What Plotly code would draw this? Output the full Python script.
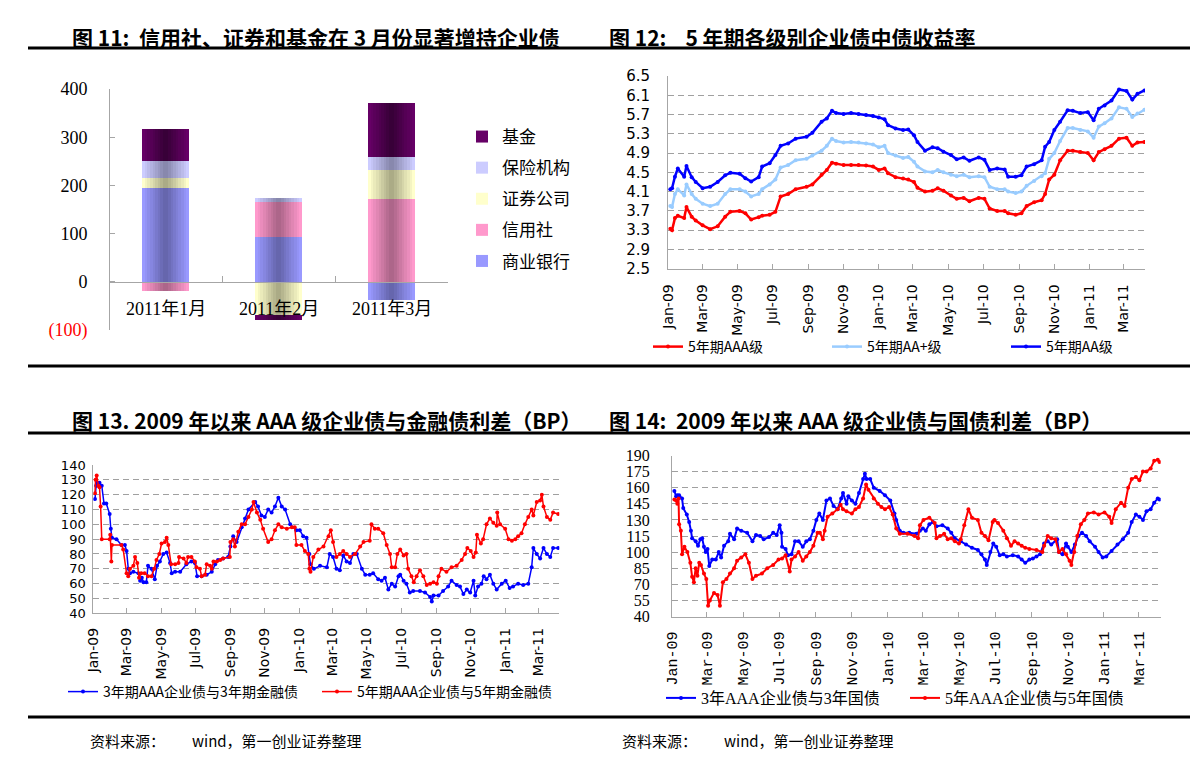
import plotly.graph_objects as go

W, H = 1191, 769
def fx(px): return px / W
def fy(py): return 1 - py / H

SERIF = "Liberation Serif, Noto Sans CJK SC"
SANS = "DejaVu Sans, Noto Sans CJK SC"
CJK = "Noto Sans CJK SC"
MONO = "Liberation Mono, Noto Sans CJK SC"
GRAY = "#A6A6A6"

# ---------------- Panel 1 data (图11) ----------------
months = ["2011年1月", "2011年2月", "2011年3月"]
bank = [195, 93, -37]        # 商业银行
credit = [-20, 73, 172]      # 信用社
securities = [21, -68, 60]   # 证券公司
insurance = [35, 8, 27]      # 保险机构
funds = [66, -12, 112]       # 基金
p1_tickvals = [-100, 0, 100, 200, 300, 400]
p1_ticktext = ['<span style="color:#FF0000">(100)</span>', "0", "100", "200", "300", "400"]

# ---------------- Panel 2 data (图12) ----------------
p2_dates = ["2009-01-05","2009-01-08","2009-01-13","2009-01-18","2009-01-29","2009-02-02","2009-02-11","2009-02-18","2009-03-02","2009-03-15",
            "2009-03-28","2009-04-10","2009-04-19","2009-05-05","2009-05-15","2009-05-25","2009-06-07","2009-06-13","2009-06-26","2009-07-06",
            "2009-07-15","2009-07-28","2009-08-10","2009-08-29","2009-09-08","2009-09-24","2009-10-03","2009-10-12","2009-10-19","2009-11-01",
            "2009-11-14","2009-11-27","2009-12-10","2009-12-22","2010-01-01","2010-01-11","2010-01-17","2010-01-30","2010-02-12","2010-02-21",
            "2010-03-03","2010-03-09","2010-03-22","2010-04-04","2010-04-13","2010-04-23","2010-05-06","2010-05-16","2010-05-28","2010-06-07",
            "2010-06-23","2010-07-03","2010-07-12","2010-07-25","2010-08-07","2010-08-13","2010-08-26","2010-09-05","2010-09-14","2010-09-27",
            "2010-10-10","2010-10-16","2010-10-23","2010-11-01","2010-11-11","2010-11-24","2010-12-03","2010-12-16","2010-12-29","2011-01-08",
            "2011-01-17","2011-01-27","2011-02-08","2011-02-21","2011-03-06","2011-03-16","2011-03-25","2011-04-06"]
p2_aaa = [3.33,3.30,3.55,3.60,3.55,3.78,3.58,3.50,3.40,3.32,
          3.38,3.58,3.68,3.70,3.65,3.52,3.57,3.60,3.62,3.68,
          4.00,4.05,4.15,4.20,4.25,4.45,4.55,4.70,4.68,4.65,
          4.65,4.65,4.64,4.62,4.55,4.58,4.48,4.40,4.37,4.35,
          4.30,4.18,4.10,4.12,4.17,4.12,4.02,3.95,3.97,3.90,
          3.97,3.95,3.75,3.70,3.70,3.65,3.62,3.65,3.80,3.88,
          3.92,4.05,4.35,4.45,4.75,4.95,4.95,4.92,4.90,4.75,
          4.92,4.98,5.05,5.20,5.22,5.05,5.12,5.13]
p2_aaplus = [3.80,3.78,4.05,4.15,4.02,4.25,4.05,3.95,3.85,3.80,
             3.85,4.05,4.15,4.15,4.10,4.00,4.05,4.15,4.25,4.35,
             4.60,4.65,4.75,4.78,4.85,4.95,5.05,5.20,5.15,5.12,
             5.13,5.12,5.10,5.08,5.02,5.05,4.90,4.85,4.80,4.82,
             4.72,4.62,4.52,4.50,4.55,4.50,4.45,4.42,4.45,4.40,
             4.42,4.40,4.20,4.15,4.15,4.10,4.07,4.10,4.22,4.32,
             4.42,4.48,4.78,4.90,5.15,5.42,5.42,5.38,5.35,5.22,
             5.45,5.52,5.62,5.85,5.82,5.65,5.72,5.80]
p2_aa = [4.15,4.17,4.41,4.58,4.41,4.63,4.40,4.30,4.17,4.20,
         4.30,4.44,4.49,4.47,4.38,4.31,4.40,4.62,4.69,4.86,
         5.05,5.10,5.20,5.24,5.32,5.55,5.62,5.78,5.73,5.71,
         5.73,5.71,5.69,5.67,5.64,5.60,5.48,5.41,5.38,5.39,
         5.27,5.13,4.95,5.02,5.00,4.93,4.86,4.77,4.81,4.74,
         4.81,4.76,4.55,4.58,4.56,4.41,4.41,4.44,4.62,4.67,
         4.75,5.03,5.13,5.38,5.55,5.79,5.78,5.73,5.75,5.58,
         5.82,5.89,5.99,6.22,6.19,6.01,6.13,6.20]

# ---------------- Panel 3 data (图13) ----------------
p3_fin3 = [("2009-01-04",117),("2009-01-06",126),("2009-01-08",128),("2009-01-12",128),("2009-01-16",126),("2009-01-20",114),("2009-01-24",114),
  ("2009-01-30",107),("2009-02-01",97),("2009-02-03",91),("2009-02-11",90),("2009-02-20",86),("2009-02-26",86),("2009-03-01",82),("2009-03-04",70),
  ("2009-03-07",67),("2009-03-13",68),("2009-03-22",67),("2009-03-25",62),("2009-03-28",64),("2009-03-31",61),("2009-04-05",61),("2009-04-08",72),
  ("2009-04-14",70),("2009-04-20",63),("2009-04-24",72),("2009-04-29",75),("2009-05-05",80),("2009-05-11",81),("2009-05-17",74),("2009-05-20",67),
  ("2009-05-26",68),("2009-06-04",68),("2009-06-15",73),("2009-06-24",75),("2009-06-30",74),("2009-07-04",65),("2009-07-12",65),("2009-07-21",66),
  ("2009-07-30",68),("2009-08-05",73),("2009-08-10",76),("2009-08-19",77),("2009-08-28",78),("2009-09-01",85),("2009-09-06",92),("2009-09-12",88),
  ("2009-09-21",98),("2009-09-27",104),("2009-10-03",110),("2009-10-15",115),("2009-10-20",112),("2009-10-26",106),("2009-11-01",105),("2009-11-07",110),
  ("2009-11-13",108),("2009-11-19",112),("2009-11-25",118),("2009-12-01",112),("2009-12-07",110),("2009-12-16",100),("2009-12-27",96),("2010-01-02",96),
  ("2010-01-08",92),("2010-01-14",91),("2010-01-19",80),("2010-01-21",73),("2010-01-27",70),("2010-02-07",72),("2010-02-19",71),("2010-02-24",80),
  ("2010-03-02",78),("2010-03-08",70),("2010-03-14",69),("2010-03-20",79),("2010-03-26",75),("2010-04-01",74),("2010-04-07",80),("2010-04-13",80),
  ("2010-04-22",70),("2010-04-28",66),("2010-05-06",66),("2010-05-12",67),("2010-05-21",63),("2010-05-27",62),("2010-06-02",64),("2010-06-08",56),
  ("2010-06-14",60),("2010-06-20",58),("2010-06-26",65),("2010-06-29",66),("2010-07-05",62),("2010-07-10",60),("2010-07-16",54),("2010-07-22",55),
  ("2010-08-03",55),("2010-08-12",54),("2010-08-21",51),("2010-08-24",48),("2010-08-27",52),("2010-09-05",52),("2010-09-13",55),("2010-09-22",58),
  ("2010-09-28",62),("2010-10-07",59),("2010-10-13",58),("2010-10-19",53),("2010-10-25",56),("2010-10-31",54),("2010-11-06",62),("2010-11-09",52),
  ("2010-11-14",58),("2010-11-20",60),("2010-11-24",65),("2010-11-29",63),("2010-12-05",66),("2010-12-11",60),("2010-12-17",56),("2010-12-26",60),
  ("2011-01-02",62),("2011-01-09",57),("2011-01-15",58),("2011-01-24",60),("2011-02-02",59),("2011-02-11",60),("2011-02-17",71),("2011-02-20",84),
  ("2011-02-26",80),("2011-03-04",77),("2011-03-10",84),("2011-03-16",80),("2011-03-22",78),("2011-03-27",84),("2011-04-05",84)]
p3_fin5 = [("2009-01-04",121),("2009-01-05",130),("2009-01-07",133),("2009-01-10",126),("2009-01-12",125),("2009-01-14",112),("2009-01-16",90),
  ("2009-01-30",90),("2009-01-31",93),("2009-02-02",75),("2009-02-03",86),("2009-02-20",86),("2009-02-23",83),("2009-03-01",67),("2009-03-04",65),
  ("2009-03-07",70),("2009-03-13",72),("2009-03-16",78),("2009-03-20",74),("2009-03-23",64),("2009-03-27",67),("2009-04-02",67),("2009-04-08",65),
  ("2009-04-14",65),("2009-04-19",70),("2009-04-23",76),("2009-04-28",80),("2009-05-02",87),("2009-05-08",88),("2009-05-11",91),("2009-05-14",86),
  ("2009-05-19",73),("2009-05-26",73),("2009-06-01",74),("2009-06-02",78),("2009-06-10",77),("2009-06-15",74),("2009-06-18",78),("2009-06-24",78),
  ("2009-06-30",75),("2009-07-03",71),("2009-07-09",70),("2009-07-12",65),("2009-07-18",66),("2009-07-21",73),("2009-07-27",72),("2009-07-30",70),
  ("2009-08-02",75),("2009-08-08",75),("2009-08-14",76),("2009-08-19",77),("2009-08-31",78),("2009-09-01",88),("2009-09-06",90),("2009-09-09",85),
  ("2009-09-15",95),("2009-09-21",100),("2009-09-27",100),("2009-10-03",105),("2009-10-09",110),("2009-10-12",115),("2009-10-18",108),("2009-10-24",103),
  ("2009-10-29",97),("2009-11-07",88),("2009-11-13",90),("2009-11-19",96),("2009-11-25",100),("2009-12-01",98),("2009-12-10",97),("2009-12-19",98),
  ("2009-12-24",98),("2009-12-27",86),("2010-01-05",86),("2010-01-11",82),("2010-01-17",80),("2010-01-19",70),("2010-01-21",68),("2010-01-26",78),
  ("2010-02-04",83),("2010-02-13",85),("2010-02-22",92),("2010-02-26",96),("2010-03-02",88),("2010-03-08",78),("2010-03-14",80),("2010-03-20",82),
  ("2010-03-26",80),("2010-04-01",78),("2010-04-10",80),("2010-04-19",85),("2010-04-25",88),("2010-05-06",89),("2010-05-09",100),("2010-05-15",97),
  ("2010-05-21",97),("2010-05-30",94),("2010-06-05",86),("2010-06-11",80),("2010-06-14",71),("2010-06-20",71),("2010-06-24",80),("2010-06-29",83),
  ("2010-07-05",79),("2010-07-10",80),("2010-07-13",70),("2010-07-19",65),("2010-07-23",61),("2010-07-28",65),("2010-08-03",69),("2010-08-09",65),
  ("2010-08-15",59),("2010-08-21",60),("2010-08-27",61),("2010-09-02",60),("2010-09-05",65),("2010-09-10",70),("2010-09-19",68),("2010-09-28",71),
  ("2010-10-07",72),("2010-10-16",76),("2010-10-22",80),("2010-10-26",84),("2010-11-01",82),("2010-11-06",78),("2010-11-10",81),("2010-11-12",93),
  ("2010-11-19",87),("2010-11-23",90),("2010-11-29",100),("2010-12-05",104),("2010-12-11",101),("2010-12-17",99),("2010-12-18",108),("2010-12-23",100),
  ("2011-01-01",97),("2011-01-07",90),("2011-01-13",89),("2011-01-19",90),("2011-01-24",92),("2011-01-30",94),("2011-02-05",100),("2011-02-11",105),
  ("2011-02-17",110),("2011-02-20",106),("2011-02-26",115),("2011-03-04",116),("2011-03-07",120),("2011-03-10",112),("2011-03-16",105),("2011-03-22",103),
  ("2011-03-27",108),("2011-04-05",107)]

# ---------------- Panel 4 data (图14) ----------------
p4_gov3 = [("2009-01-05",157),("2009-01-08",152),("2009-01-10",153),("2009-01-13",153),("2009-01-18",150),("2009-01-20",141),("2009-01-26",135),
  ("2009-01-30",128),("2009-02-02",120),("2009-02-04",113),("2009-02-10",110),("2009-02-14",106),("2009-02-18",112),("2009-02-21",113),("2009-02-24",105),
  ("2009-02-27",100),("2009-03-02",103),("2009-03-05",87),("2009-03-10",93),("2009-03-16",93),("2009-03-21",100),("2009-03-25",95),("2009-03-30",106),
  ("2009-04-06",110),("2009-04-09",117),("2009-04-16",112),("2009-04-21",122),("2009-04-28",120),("2009-05-08",118),("2009-05-17",110),("2009-05-23",116),
  ("2009-05-30",115),("2009-06-05",112),("2009-06-14",114),("2009-06-21",118),("2009-06-27",116),("2009-07-02",125),("2009-07-05",118),("2009-07-06",105),
  ("2009-07-12",103),("2009-07-16",97),("2009-07-22",98),("2009-07-28",110),("2009-08-03",110),("2009-08-10",105),("2009-08-16",110),("2009-08-22",112),
  ("2009-08-28",120),("2009-09-02",130),("2009-09-07",136),("2009-09-13",130),("2009-09-19",148),("2009-09-25",150),("2009-10-01",143),("2009-10-08",140),
  ("2009-10-14",150),("2009-10-17",155),("2009-10-23",145),("2009-10-26",152),("2009-11-01",148),("2009-11-07",145),("2009-11-13",155),("2009-11-20",168),
  ("2009-11-23",173),("2009-11-26",168),("2009-12-02",168),("2009-12-08",160),("2009-12-18",157),("2009-12-27",153),("2010-01-05",148),("2010-01-12",136),
  ("2010-01-15",130),("2010-01-21",120),("2010-01-27",118),("2010-02-06",118),("2010-02-18",117),("2010-02-24",120),("2010-03-01",122),("2010-03-06",120),
  ("2010-03-12",126),("2010-03-18",128),("2010-03-24",124),("2010-04-03",125),("2010-04-12",122),("2010-04-18",118),("2010-04-24",113),("2010-05-04",110),
  ("2010-05-13",107),("2010-05-23",104),("2010-06-02",102),("2010-06-08",98),("2010-06-14",93),("2010-06-17",88),("2010-06-23",100),("2010-06-28",108),
  ("2010-07-03",105),("2010-07-09",97),("2010-07-15",98),("2010-07-21",96),("2010-07-31",97),("2010-08-09",96),("2010-08-15",93),("2010-08-21",90),
  ("2010-08-28",93),("2010-09-03",94),("2010-09-09",96),("2010-09-15",98),("2010-09-22",108),("2010-09-28",110),("2010-10-04",107),("2010-10-14",112),
  ("2010-10-17",100),("2010-10-23",98),("2010-10-29",108),("2010-11-01",105),("2010-11-07",100),("2010-11-13",107),("2010-11-19",115),("2010-11-25",118),
  ("2010-12-02",115),("2010-12-08",110),("2010-12-17",105),("2010-12-23",100),("2010-12-30",95),("2011-01-05",96),("2011-01-14",101),("2011-01-24",107),
  ("2011-02-02",112),("2011-02-11",118),("2011-02-17",128),("2011-02-24",135),("2011-03-02",133),("2011-03-08",130),("2011-03-14",138),("2011-03-21",140),
  ("2011-03-27",146),("2011-04-02",150),("2011-04-05",149)]
p4_gov5 = [("2009-01-05",149),("2009-01-08",148),("2009-01-10",145),("2009-01-12",150),("2009-01-13",126),("2009-01-16",120),("2009-01-18",98),
  ("2009-01-22",105),("2009-01-27",100),("2009-02-01",90),("2009-02-04",77),("2009-02-07",72),("2009-02-10",85),("2009-02-13",78),("2009-02-16",90),
  ("2009-02-19",88),("2009-02-24",80),("2009-02-28",75),("2009-03-03",50),("2009-03-06",55),("2009-03-13",62),("2009-03-19",60),("2009-03-23",50),
  ("2009-03-28",72),("2009-04-03",75),("2009-04-09",80),("2009-04-16",85),("2009-04-21",92),("2009-04-28",95),("2009-05-05",98),("2009-05-11",90),
  ("2009-05-17",75),("2009-05-23",78),("2009-06-02",80),("2009-06-11",85),("2009-06-21",88),("2009-06-30",93),("2009-07-06",94),("2009-07-12",97),
  ("2009-07-19",82),("2009-07-22",93),("2009-07-28",96),("2009-08-03",100),("2009-08-10",92),("2009-08-16",96),("2009-08-22",100),("2009-08-28",106),
  ("2009-09-04",118),("2009-09-08",118),("2009-09-13",112),("2009-09-16",120),("2009-09-21",133),("2009-09-29",136),("2009-10-08",140),("2009-10-13",144),
  ("2009-10-17",140),("2009-10-23",138),("2009-11-01",136),("2009-11-07",140),("2009-11-13",142),("2009-11-20",150),("2009-11-25",163),("2009-11-29",158),
  ("2009-12-08",150),("2009-12-15",145),("2009-12-21",142),("2009-12-27",140),("2010-01-03",142),("2010-01-09",135),("2010-01-15",122),("2010-01-21",117),
  ("2010-02-03",117),("2010-02-15",115),("2010-02-21",113),("2010-02-24",125),("2010-03-02",130),("2010-03-12",132),("2010-03-21",127),("2010-03-24",113),
  ("2010-03-30",115),("2010-04-06",117),("2010-04-12",112),("2010-04-18",113),("2010-04-24",110),("2010-05-01",108),("2010-05-04",112),("2010-05-10",125),
  ("2010-05-17",140),("2010-05-23",132),("2010-06-02",130),("2010-06-08",118),("2010-06-14",115),("2010-06-20",111),("2010-06-27",128),("2010-06-30",130),
  ("2010-07-06",127),("2010-07-15",120),("2010-07-21",113),("2010-07-28",106),("2010-08-03",110),("2010-08-09",108),("2010-08-15",106),("2010-08-21",104),
  ("2010-08-28",103),("2010-09-09",102),("2010-09-19",100),("2010-09-22",106),("2010-09-28",115),("2010-10-04",113),("2010-10-11",112),("2010-10-17",100),
  ("2010-10-23",103),("2010-10-29",98),("2010-11-04",92),("2010-11-07",88),("2010-11-12",100),("2010-11-17",115),("2010-11-23",126),("2010-11-29",130),
  ("2010-12-05",136),("2010-12-15",137),("2010-12-23",135),("2011-01-02",137),("2011-01-10",133),("2011-01-14",127),("2011-01-21",140),("2011-01-30",146),
  ("2011-02-05",143),("2011-02-11",160),("2011-02-17",168),("2011-02-24",170),("2011-03-02",167),("2011-03-08",175),("2011-03-14",175),("2011-03-21",178),
  ("2011-03-27",185),("2011-04-02",186),("2011-04-05",184)]

titles = ["图 11:  信用社、证券和基金在 3 月份显著增持企业债",
          "图 12:    5 年期各级别企业债中债收益率",
          "图 13. 2009 年以来 AAA 级企业债与金融债利差（BP）",
          "图 14:  2009 年以来 AAA 级企业债与国债利差（BP）"]
source_label = "资料来源："
source_text = "wind，第一创业证券整理"

# ======================================================
fig = go.Figure()

# ---- Panel 1 stacked bars with cylindrical shading ----
def hex2rgb(h):
    h = h.lstrip("#")
    return tuple(int(h[i:i + 2], 16) for i in (0, 2, 4))

def mix(c1, c2, t):
    a, b = hex2rgb(c1), hex2rgb(c2)
    return "rgb(%d,%d,%d)" % tuple(round(a[i] + (b[i] - a[i]) * t) for i in range(3))

series1 = [("商业银行", bank, "#9999FF", "#6666AD"),
           ("信用社", credit, "#FF99CC", "#AD668A"),
           ("证券公司", securities, "#FFFFCC", "#ABAB86"),
           ("保险机构", insurance, "#CCCCFF", "#8888AD"),
           ("基金", funds, "#660066", "#380038")]
BW = 0.41
NSTEP = 9
pos = [0, 0, 0]
neg = [0, 0, 0]
for si, (name, vals, c_edge, c_mid) in enumerate(series1):
    bases = []
    for i, v in enumerate(vals):
        if v >= 0:
            bases.append(pos[i]); pos[i] += v
        else:
            bases.append(neg[i]); neg[i] += v
    for k in range(NSTEP):
        t = k / (NSTEP - 1)
        fig.add_trace(go.Bar(
            x=months, y=vals, base=bases, width=BW * (1 - k / NSTEP),
            marker=dict(color=mix(c_edge, c_mid, t), line=dict(width=0)),
            name=name, legendgroup=name, legendrank=len(series1) - si, showlegend=(k == 0),
            xaxis="x", yaxis="y", legend="legend", hoverinfo="skip" if k else "y+name"))

# ---- Panel 2 lines ----
for name, vals, col in [("5年期AAA级", p2_aaa, "#FF0000"),
                        ("5年期AA+级", p2_aaplus, "#99CCFF"),
                        ("5年期AA级", p2_aa, "#0000FF")]:
    fig.add_trace(go.Scatter(x=p2_dates, y=vals, mode="lines+markers", name=name,
                             line=dict(color=col, width=2.5), marker=dict(color=col, size=4),
                             xaxis="x2", yaxis="y2", legend="legend2"))

# ---- Panel 3 lines ----
for name, pairs, col in [("3年期AAA企业债与3年期金融债", p3_fin3, "#0000FF"),
                         ("5年期AAA企业债与5年期金融债", p3_fin5, "#FF0000")]:
    fig.add_trace(go.Scatter(x=[d for d, _ in pairs], y=[v for _, v in pairs], mode="lines+markers",
                             name=name, line=dict(color=col, width=1.5), marker=dict(color=col, size=4),
                             xaxis="x3", yaxis="y3", legend="legend3"))

# ---- Panel 4 lines ----
for name, pairs, col in [("3年AAA企业债与3年国债", p4_gov3, "#0000FF"),
                         ("5年AAA企业债与5年国债", p4_gov5, "#FF0000")]:
    fig.add_trace(go.Scatter(x=[d for d, _ in pairs], y=[v for _, v in pairs], mode="lines+markers",
                             name=name, line=dict(color=col, width=2), marker=dict(color=col, size=4),
                             xaxis="x4", yaxis="y4", legend="legend4"))

# ---- Axes ----
y1_dom = [fy(330), fy(89)]
y1_rng = [-100, 400]
zero_pos = y1_dom[0] + (0 - y1_rng[0]) / (y1_rng[1] - y1_rng[0]) * (y1_dom[1] - y1_dom[0])

date_range = ["2009-01-01", "2011-04-07"]

def date_axis(dom, font, standoff):
    return dict(domain=dom, type="date", range=date_range, tick0="2009-01-01", dtick="M2",
                tickformat="%b-%y", tickangle=-90, ticks="inside", ticklen=5, tickcolor=GRAY,
                showline=True, linecolor=GRAY, linewidth=1, showgrid=False, zeroline=False,
                tickfont=font, ticklabelstandoff=standoff)

def val_axis(dom, rng, dtick, font, standoff, fmt=None):
    d = dict(domain=dom, range=rng, tick0=rng[0], dtick=dtick, showgrid=True, gridcolor="#A0A0A0",
             griddash="6px,4px", gridwidth=1, showline=True, linecolor=GRAY, linewidth=1,
             zeroline=False, ticks="", tickfont=font, ticklabelstandoff=standoff)
    if fmt:
        d["tickformat"] = fmt
    return d

fig.update_layout(
    xaxis=dict(domain=[fx(109), fx(448)], type="category", range=[-0.5, 2.5], anchor="free",
               position=zero_pos, showline=True, linecolor=GRAY, ticks="inside", tickson="boundaries",
               ticklen=6, tickcolor=GRAY, showticklabels=False, showgrid=False, zeroline=False),
    yaxis=dict(domain=y1_dom, range=y1_rng, anchor="free", position=fx(109), tickvals=p1_tickvals,
               ticktext=p1_ticktext, showline=True, linecolor=GRAY, ticks="inside", ticklen=5,
               tickcolor=GRAY, showgrid=False, zeroline=False,
               tickfont=dict(family=SERIF, size=18, color="#000000"), ticklabelstandoff=18),
    xaxis2=date_axis([fx(668), fx(1145)], dict(family=SANS, size=14, color="#000000"), 9) | dict(anchor="y2"),
    yaxis2=val_axis([fy(268.7), fy(76)], [2.5, 6.5], 0.4, dict(family=SANS, size=15, color="#000000"), 14, ".1f") | dict(anchor="x2"),
    xaxis3=date_axis([fx(93.3), fx(559.3)], dict(family=SANS, size=14, color="#000000"), 8) | dict(anchor="y3"),
    yaxis3=val_axis([fy(613.3), fy(465)], [40, 140], 10, dict(family=SANS, size=13, color="#000000"), 4) | dict(anchor="x3"),
    xaxis4=date_axis([fx(672), fx(1160.7)], dict(family=MONO, size=15, color="#000000"), 8) | dict(anchor="y4"),
    yaxis4=val_axis([fy(616.5), fy(455.5)], [40, 190], 15, dict(family=SERIF, size=16, color="#000000"), 18) | dict(anchor="x4"),
)

# ---- Legends ----
fig.update_layout(
    legend=dict(x=fx(462), y=fy(119), xanchor="left", yanchor="top", traceorder="grouped",
                tracegroupgap=6, font=dict(family=SERIF, size=17, color="#000000"), bgcolor="rgba(0,0,0,0)"),
    legend2=dict(orientation="h", x=fx(648), y=fy(347), xanchor="left", yanchor="middle",
                 entrywidth=134, entrywidthmode="pixels", font=dict(family=CJK, size=14, color="#000000"),
                 bgcolor="rgba(0,0,0,0)"),
    legend3=dict(orientation="h", x=fx(63), y=fy(692), xanchor="left", yanchor="middle",
                 entrywidth=209, entrywidthmode="pixels", font=dict(family=CJK, size=14, color="#000000"),
                 bgcolor="rgba(0,0,0,0)"),
    legend4=dict(orientation="h", x=fx(661), y=fy(698), xanchor="left", yanchor="middle",
                 entrywidth=199, entrywidthmode="pixels", font=dict(family=SERIF, size=16, color="#000000"),
                 bgcolor="rgba(0,0,0,0)"),
)

# ---- Annotations ----
ann = []
for m in months:
    ann.append(dict(x=m, y=-57, xref="x", yref="y", text=m, showarrow=False,
                    font=dict(family=SERIF, size=18, color="#000000")))
for text, px, py in [(titles[0], 70, 37), (titles[1], 607, 37), (titles[2], 70, 420), (titles[3], 607, 420)]:
    ann.append(dict(x=fx(px), y=fy(py), xref="paper", yref="paper", xanchor="left", yanchor="middle",
                    text="<b>%s</b>" % text, showarrow=False,
                    font=dict(family=CJK, size=21, color="#000000")))
for px0, px1 in ((88, 190), (620, 722)):
    ann.append(dict(x=fx(px0), y=fy(740), xref="paper", yref="paper", xanchor="left", yanchor="middle",
                    text=source_label, showarrow=False, font=dict(family=CJK, size=15, color="#000000")))
    ann.append(dict(x=fx(px1), y=fy(740), xref="paper", yref="paper", xanchor="left", yanchor="middle",
                    text=source_text, showarrow=False, font=dict(family=CJK, size=15, color="#000000")))

shapes = []
for py in (48, 366, 433, 717):
    shapes.append(dict(type="line", xref="paper", yref="paper", x0=fx(28), x1=fx(1190),
                       y0=fy(py), y1=fy(py), line=dict(color="#000000", width=3)))

fig.update_layout(
    width=W, height=H, margin=dict(l=0, r=0, t=0, b=0, autoexpand=False),
    paper_bgcolor="#FFFFFF", plot_bgcolor="rgba(0,0,0,0)",
    barmode="overlay", bargap=0, annotations=ann, shapes=shapes, hovermode="closest",
)

fig.write_html("out.html", config={"displayModeBar": False},
               post_script="document.body.style.margin='0';")
